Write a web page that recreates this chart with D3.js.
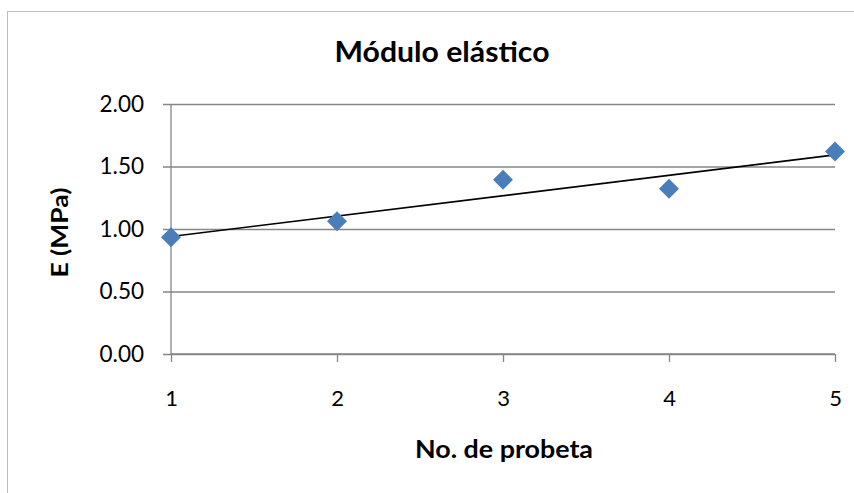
<!DOCTYPE html>
<html>
<head>
<meta charset="utf-8">
<script src="https://cdn.jsdelivr.net/npm/d3@7/dist/d3.min.js"></script>
<style>
  html, body { margin: 0; padding: 0; background: #fff; }
  svg { display: block; }
  text { font-family: Lato, "Open Sans", sans-serif; fill: #000; }
</style>
</head>
<body>
<svg id="chart" width="854" height="493"></svg>
<script>
// Elastic modulus measured per specimen
const probetas = [1, 2, 3, 4, 5];
const moduloE = [0.934, 1.062, 1.394, 1.322, 1.62];
const yTicks = [0, 0.5, 1, 1.5, 2];
const xTicks = [1, 2, 3, 4, 5];

const svg = d3.select("#chart");
const W = 854, H = 493;

// Chart frame
svg.append("rect")
  .attr("x", 7.5).attr("y", 11.5)
  .attr("width", W + 10).attr("height", H + 10)
  .attr("fill", "#fff").attr("stroke", "#bcbcbc").attr("stroke-width", 1);

const plot = { left: 171, right: 835, top: 104, bottom: 354 };

const x = d3.scaleLinear().domain([1, 5]).range([plot.left, plot.right]);
const y = d3.scaleLinear().domain([0, 2]).range([plot.bottom, plot.top]);

const grid = "#868686";

// Horizontal gridlines with left tick extension
const yAxis = d3.axisLeft(y).tickValues(yTicks).tickFormat(d3.format(".2f"))
  .tickSize(-(plot.right - plot.left)).tickPadding(27);
const gy = svg.append("g").attr("transform", `translate(${plot.left},0)`).call(yAxis);
gy.select(".domain").remove();
gy.selectAll(".tick line").attr("stroke", grid).attr("stroke-width", 1.3).attr("x1", -8);
gy.selectAll(".tick text").attr("font-size", 22.5).attr("fill", "#000");

// Bottom axis with tick marks below
const xAxis = d3.axisBottom(x).tickValues(xTicks).tickFormat(d3.format("d"))
  .tickSize(8).tickPadding(28);
const gx = svg.append("g").attr("transform", `translate(0,${plot.bottom})`).call(xAxis);
gx.select(".domain").attr("stroke", grid).attr("stroke-width", 1.3).attr("d", `M${plot.left},0H${plot.right}`);
gx.selectAll(".tick line").attr("stroke", grid).attr("stroke-width", 1.3);
gx.selectAll(".tick text").attr("font-size", 22).attr("fill", "#000");

// Vertical axis line
svg.append("line")
  .attr("x1", plot.left).attr("x2", plot.left)
  .attr("y1", plot.top).attr("y2", plot.bottom)
  .attr("stroke", grid).attr("stroke-width", 1.3);

// Linear trendline (least squares)
const mx = d3.mean(probetas), my = d3.mean(moduloE);
const slope = d3.sum(probetas, (p, i) => (p - mx) * (moduloE[i] - my)) / d3.sum(probetas, p => (p - mx) ** 2);
const intercept = my - slope * mx;
const ends = d3.extent(probetas);
svg.append("line")
  .attr("x1", x(ends[0])).attr("y1", y(intercept + slope * ends[0]))
  .attr("x2", x(ends[1])).attr("y2", y(intercept + slope * ends[1]))
  .attr("stroke", "#000").attr("stroke-width", 1.6);

// Diamond markers
const diamond = d3.symbol().type(d3.symbolSquare).size(200);
svg.append("g").selectAll("path").data(probetas).join("path")
  .attr("d", diamond)
  .attr("transform", (p, i) => `translate(${x(p)},${y(moduloE[i])}) rotate(45)`)
  .attr("fill", "#4a7ebb");

// Titles
svg.append("text")
  .attr("x", 442).attr("y", 62)
  .attr("text-anchor", "middle").attr("font-size", 28).attr("font-weight", "bold")
  .attr("textLength", 215).attr("lengthAdjust", "spacingAndGlyphs")
  .text("Módulo elástico");

svg.append("text")
  .attr("transform", `translate(68,232.5) rotate(-90)`)
  .attr("text-anchor", "middle").attr("font-size", 23).attr("font-weight", "bold")
  .attr("textLength", 90).attr("lengthAdjust", "spacingAndGlyphs")
  .text("E (MPa)");

svg.append("text")
  .attr("x", 504).attr("y", 458)
  .attr("text-anchor", "middle").attr("font-size", 24).attr("font-weight", "bold")
  .attr("textLength", 178).attr("lengthAdjust", "spacingAndGlyphs")
  .text("No. de probeta");
</script>
</body>
</html>
